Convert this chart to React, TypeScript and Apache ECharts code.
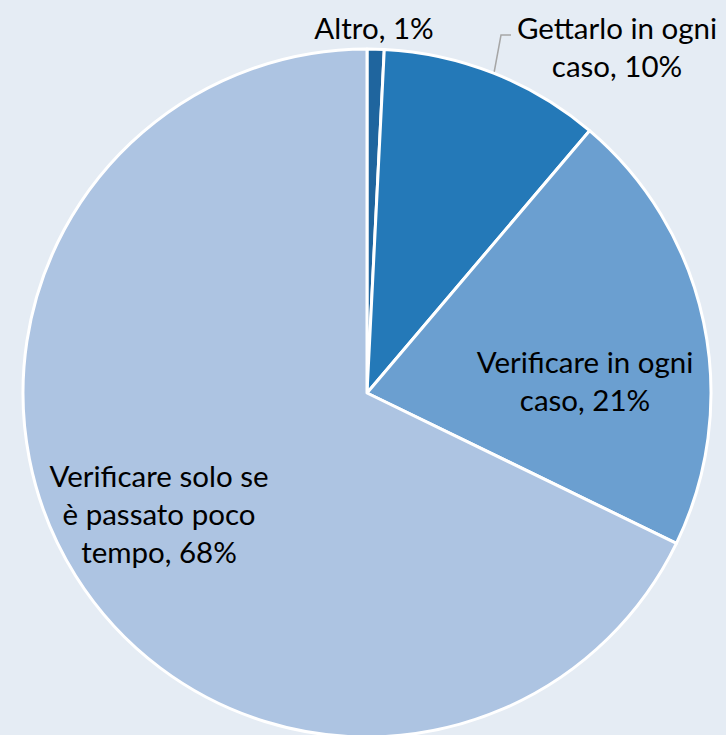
import React, { useEffect, useRef } from "react";
import * as echarts from "echarts";

const categories = [
  "Altro",
  "Gettarlo in ogni caso",
  "Verificare in ogni caso",
  "Verificare solo se è passato poco tempo",
];
const labelNames = [
  "Altro",
  "Gettarlo in ogni\ncaso",
  "Verificare in ogni\ncaso",
  "Verificare solo se\nè passato poco\ntempo",
];
const values = [0.8, 10.4, 21.0, 67.8];
const colors = ["#1f659e", "#2479b8", "#6b9fd0", "#adc4e2"];

// label anchor positions (text block centres) and leader line
const labelPos = [
  [374, 27],
  [617, 46],
  [585, 380],
  [159, 513],
];

export default function App() {
  const ref = useRef<HTMLDivElement>(null);
  useEffect(() => {
    if (!ref.current) return;
    const chart = echarts.init(ref.current, undefined, { renderer: "svg" });
    chart.setOption({
      animation: false,
      backgroundColor: "#e5ecf4",
      series: [
        {
          type: "pie",
          center: [367, 393],
          radius: 344,
          startAngle: 90,
          clockwise: true,
          percentPrecision: 0,
          avoidLabelOverlap: false,
          itemStyle: { borderColor: "#ffffff", borderWidth: 3 },
          label: {
            show: true,
            position: "inside",
            fontFamily: "Lato",
            fontSize: 29.5,
            lineHeight: 38,
            color: "#000000",
            align: "center",
            formatter: (p: any) => `${labelNames[p.dataIndex]}, ${p.percent}%`,
          },
          labelLine: { show: false },
          labelLayout: (p: any) => {
            const i = p.dataIndex;
            const res: any = {
              x: labelPos[i][0],
              y: labelPos[i][1],
              align: "center",
              verticalAlign: "middle",
            };
            if (i === 1) {
              res.labelLinePoints = [
                [494, 73],
                [501, 35],
                [511, 35],
              ];
            }
            return res;
          },
          data: categories.map((c, i) => ({
            name: c,
            value: values[i],
            itemStyle: { color: colors[i] },
            label: i === 1 ? { position: "outside" } : undefined,
            labelLine:
              i === 1
                ? { show: true, lineStyle: { color: "#a6a6a6", width: 1.5 } }
                : { show: false },
          })),
        },
      ],
    });
    return () => chart.dispose();
  }, []);
  return (
    <div
      ref={ref}
      style={{ position: "fixed", left: 0, top: 0, width: 726, height: 735 }}
    />
  );
}
